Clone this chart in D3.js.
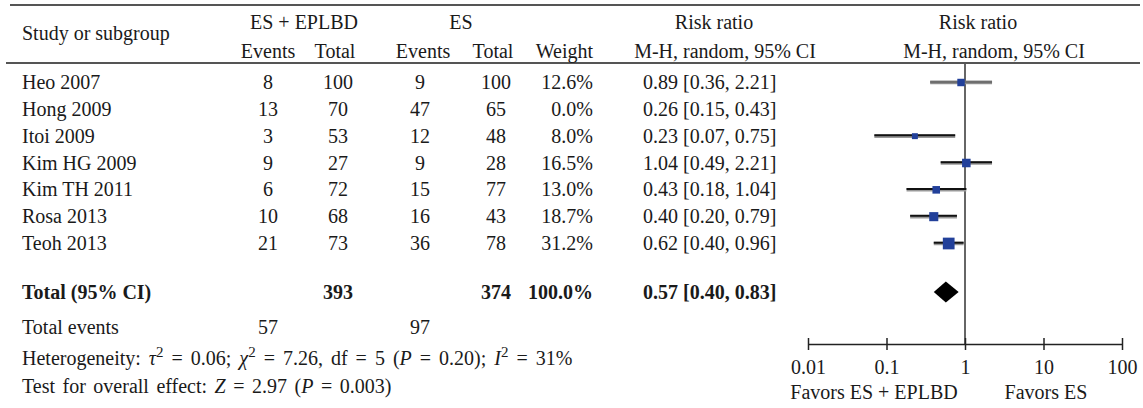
<!DOCTYPE html>
<html>
<head>
<meta charset="utf-8">
<script src="https://cdn.jsdelivr.net/npm/d3@7"></script>
<style>
  body { margin: 0; background: #fff; }
  text { font-family: "Liberation Serif", "DejaVu Serif", serif; font-size: 20px; fill: #1a1a1a; }
  .bold { font-weight: bold; }
</style>
</head>
<body>
<div id="chart"></div>
<script>
// Study data
const studies = ["Heo 2007", "Hong 2009", "Itoi 2009", "Kim HG 2009", "Kim TH 2011", "Rosa 2013", "Teoh 2013"];
const eventsA = [8, 13, 3, 9, 6, 10, 21];
const totalA = [100, 70, 53, 27, 72, 68, 73];
const eventsB = [9, 47, 12, 9, 15, 16, 36];
const totalB = [100, 65, 48, 28, 77, 43, 78];
const weights = [12.6, 0.0, 8.0, 16.5, 13.0, 18.7, 31.2];
const ratio = [0.89, 0.26, 0.23, 1.04, 0.43, 0.40, 0.62];
const ciLow = [0.36, 0.15, 0.07, 0.49, 0.18, 0.20, 0.40];
const ciHigh = [2.21, 0.43, 0.75, 2.21, 1.04, 0.79, 0.96];

// pooled result
const pooled = { totalA: 393, totalB: 374, eventsA: 57, eventsB: 97, weight: "100.0%", rr: 0.57, lo: 0.40, hi: 0.83 };

const axisTicks = [0.01, 0.1, 1, 10, 100];
const axisLabels = ["0.01", "0.1", "1", "10", "100"];

const width = 1143, height = 408;
const fmt = d3.format(".2f");

const svg = d3.select("#chart").append("svg")
    .attr("width", width)
    .attr("height", height);

// column positions
const col = { study: 22, evA: 268, totA: 338, evB: 420, totB: 496, weightR: 593, ci: 643 };

const rowY = d3.scalePoint()
    .domain(studies)
    .range([82, 243]);
const totalY = 292, totalEventsY = 327, hetY = 358, testY = 386;

// header rules
svg.append("line").attr("x1", 10).attr("x2", 1140).attr("y1", 5).attr("y2", 5)
    .attr("stroke", "#555").attr("stroke-width", 2);
svg.append("line").attr("x1", 6).attr("x2", 1140).attr("y1", 63).attr("y2", 63)
    .attr("stroke", "#555").attr("stroke-width", 2);

function txt(x, y, s, anchor, cls) {
  return svg.append("text").attr("x", x).attr("y", y).attr("dy", "0.35em")
    .attr("text-anchor", anchor || "start").attr("class", cls || null).text(s);
}

// header
txt(col.study, 33, "Study or subgroup");
txt(304, 22, "ES + EPLBD", "middle");
txt(268, 51, "Events", "middle");
txt(335, 51, "Total", "middle");
txt(461, 22, "ES", "middle");
txt(423, 51, "Events", "middle");
txt(493, 51, "Total", "middle");
txt(col.weightR, 51, "Weight", "end");
txt(714, 22, "Risk ratio", "middle");
txt(725, 51, "M-H, random, 95% CI", "middle");
txt(978, 22, "Risk ratio", "middle");
txt(994, 51, "M-H, random, 95% CI", "middle");

// study rows
studies.forEach((s, i) => {
  const y = rowY(s);
  txt(col.study, y, s);
  txt(col.evA, y, eventsA[i], "middle");
  txt(col.totA, y, totalA[i], "middle");
  txt(col.evB, y, eventsB[i], "middle");
  txt(col.totB, y, totalB[i], "middle");
  txt(col.weightR, y, weights[i].toFixed(1) + "%", "end");
  txt(col.ci, y, fmt(ratio[i]) + " [" + fmt(ciLow[i]) + ", " + fmt(ciHigh[i]) + "]");
});

// totals
txt(col.study, totalY, "Total (95% CI)", "start", "bold");
txt(col.totA, totalY, pooled.totalA, "middle", "bold");
txt(col.totB, totalY, pooled.totalB, "middle", "bold");
txt(col.weightR, totalY, pooled.weight, "end", "bold");
txt(col.ci, totalY, fmt(pooled.rr) + " [" + fmt(pooled.lo) + ", " + fmt(pooled.hi) + "]", "start", "bold");

txt(col.study, totalEventsY, "Total events");
txt(col.evA, totalEventsY, pooled.eventsA, "middle");
txt(col.evB, totalEventsY, pooled.eventsB, "middle");

// heterogeneity line with italics and superscripts
const het = svg.append("text").attr("x", col.study).attr("y", hetY).attr("dy", "0.35em")
    .style("word-spacing", "3px");
const hetParts = [
  ["Heterogeneity: ", false], ["τ", true], ["2", false, true], [" = 0.06; ", false],
  ["χ", true], ["2", false, true], [" = 7.26, df = 5 (", false], ["P", true],
  [" = 0.20); ", false], ["I", true], ["2", false, true], [" = 31%", false]
];
hetParts.forEach(p => {
  const t = het.append("tspan").text(p[0]);
  if (p[1]) t.style("font-style", "italic");
  if (p[2]) t.attr("baseline-shift", "super").style("font-size", "15px");
});

const test = svg.append("text").attr("x", col.study).attr("y", testY).attr("dy", "0.35em")
    .style("word-spacing", "2.5px");
[["Test for overall effect: ", false], ["Z", true], [" = 2.97 (", false], ["P", true], [" = 0.003)", false]]
  .forEach(p => {
    const t = test.append("tspan").text(p[0]);
    if (p[1]) t.style("font-style", "italic");
  });

// forest plot
const x = d3.scaleLog().domain([0.01, 100]).range([808, 1122]);
const axisY = 344;

svg.append("line")
    .attr("x1", x(1)).attr("x2", x(1))
    .attr("y1", 64).attr("y2", axisY)
    .attr("stroke", "#666").attr("stroke-width", 2);

const plotted = studies.map((s, i) => ({ s, i })).filter(d => weights[d.i] > 0);

// CI whiskers: grey shadow then black line
svg.selectAll(".ci-shadow").data(plotted).enter().append("line")
    .attr("class", "ci-shadow")
    .attr("x1", d => x(ciLow[d.i])).attr("x2", d => x(ciHigh[d.i]))
    .attr("y1", d => rowY(d.s) + 0.5).attr("y2", d => rowY(d.s) + 0.5)
    .attr("stroke", "#999").attr("stroke-width", 3.5);
svg.selectAll(".ci-line").data(plotted.filter(d => d.i !== 0)).enter().append("line")
    .attr("class", "ci-line")
    .attr("x1", d => x(ciLow[d.i])).attr("x2", d => x(ciHigh[d.i]))
    .attr("y1", d => rowY(d.s) - 0.3).attr("y2", d => rowY(d.s) - 0.3)
    .attr("stroke", "#111").attr("stroke-width", 2);
svg.selectAll(".ci-heo").data(plotted.filter(d => d.i === 0)).enter().append("line")
    .attr("x1", d => x(ciLow[d.i])).attr("x2", d => x(ciHigh[d.i]))
    .attr("y1", d => rowY(d.s)).attr("y2", d => rowY(d.s))
    .attr("stroke", "#6e6e6e").attr("stroke-width", 2.5);

const side = w => 2.1 * Math.sqrt(w);
svg.selectAll(".box").data(plotted).enter().append("rect")
    .attr("class", "box")
    .attr("x", d => x(ratio[d.i]) - side(weights[d.i]) / 2)
    .attr("y", d => rowY(d.s) - side(weights[d.i]) / 2 + 0.5)
    .attr("width", d => side(weights[d.i]))
    .attr("height", d => side(weights[d.i]))
    .attr("fill", "#22409a");

// pooled diamond
svg.append("path")
    .attr("d", `M${x(pooled.lo)},${totalY} L${x(pooled.rr)},${totalY - 10.5} L${x(pooled.hi)},${totalY} L${x(pooled.rr)},${totalY + 10.5} Z`)
    .attr("fill", "#000");

// axis
const axis = svg.append("g")
    .attr("transform", `translate(0,${axisY})`)
    .call(d3.axisBottom(x).tickValues(axisTicks).tickSizeOuter(0)
      .tickFormat((d, i) => axisLabels[i]));
axis.select(".domain").attr("stroke", "#222").attr("stroke-width", 1.5);
axis.selectAll(".tick line").attr("y1", -6).attr("y2", 6).attr("stroke", "#222").attr("stroke-width", 1.5);
axis.selectAll(".tick text").attr("y", 0).attr("dy", "0.35em")
    .attr("transform", "translate(0,23)")
    .style("font-size", "20px").style("font-family", '"Liberation Serif", serif').attr("fill", "#1a1a1a");

txt(874, 392, "Favors ES + EPLBD", "middle");
txt(1046, 392, "Favors ES", "middle");
</script>
</body>
</html>
